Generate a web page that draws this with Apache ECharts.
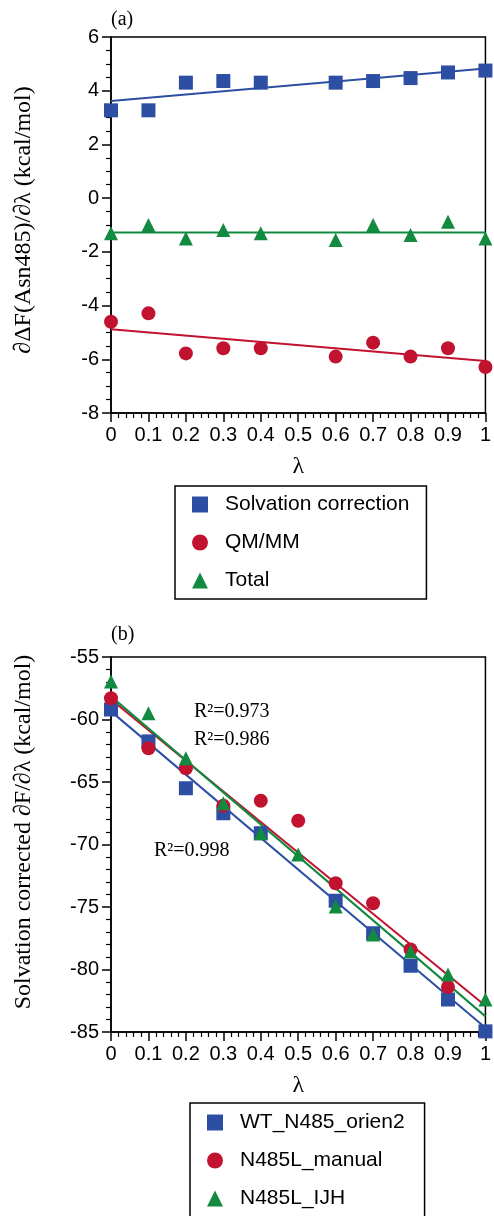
<!DOCTYPE html>
<html>
<head>
<meta charset="utf-8">
<script src="https://cdn.jsdelivr.net/npm/echarts@6/dist/echarts.min.js"></script>
<style>
  html, body { margin: 0; padding: 0; background: #fff; }
  #chart { width: 494px; height: 1216px; }
</style>
</head>
<body>
<div id="chart"></div>
<script>
// panel (a)
const lambdaA = [0, 0.1, 0.2, 0.3, 0.4, 0.6, 0.7, 0.8, 0.9, 1];
const solvation = [3.27, 3.27, 4.3, 4.36, 4.3, 4.3, 4.36, 4.47, 4.68, 4.75];
const qmmm = [-4.6, -4.29, -5.78, -5.59, -5.59, -5.9, -5.38, -5.9, -5.59, -6.29];
const total = [-1.31, -1.0, -1.5, -1.19, -1.31, -1.56, -1.0, -1.37, -0.88, -1.5];
const fitEnds = [0, 1];
const solvationFit = [3.62, 4.83];
const qmmmFit = [-4.88, -6.06];
const totalFit = [-1.28, -1.28];

// panel (b)
const lambdaWT = [0, 0.1, 0.2, 0.3, 0.4, 0.6, 0.7, 0.8, 0.9, 1];
const wtOrien2 = [-59.2, -61.75, -65.5, -67.5, -69.1, -74.5, -77.1, -79.7, -82.4, -84.95];
const lambdaL = [0, 0.1, 0.2, 0.3, 0.4, 0.5, 0.6, 0.7, 0.8, 0.9, 1];
const n485lManual = [-58.3, -62.3, -63.9, -66.9, -66.5, -68.1, -73.1, -74.7, -78.4, -81.4, -85.1];
const n485lIJH = [-56.95, -59.5, -63.1, -66.7, -69.1, -70.8, -74.95, -77.2, -78.55, -80.4, -82.4];
const wtFit = [-59.35, -84.66];
const manualFit = [-58.4, -82.9];
const ijhFit = [-58.15, -83.75];

const BLUE = '#2d4fa3';
const RED = '#c1122f';
const GREEN = '#128a3f';
const SANS = '"Liberation Sans", Arial, sans-serif';
const SERIF = '"Liberation Serif", "Times New Roman", serif';

const pairs = (xs, ys) => xs.map((x, i) => [x, ys[i]]);

const xAxisBase = (gridIndex) => ({
  type: 'value',
  gridIndex,
  min: 0,
  max: 1,
  interval: 0.1,
  name: 'λ',
  nameLocation: 'middle',
  nameGap: 42,
  nameTextStyle: { fontFamily: SERIF, fontSize: 24, color: '#000' },
  axisLine: { onZero: false, lineStyle: { color: '#000', width: 1.5 } },
  axisTick: { inside: false, length: 9, lineStyle: { color: '#000', width: 1.5 } },
  minorTick: { show: true, splitNumber: 5, length: 5, lineStyle: { color: '#000', width: 1.2 } },
  splitLine: { show: false },
  axisLabel: {
    margin: 12,
    fontFamily: SANS,
    fontSize: 20,
    color: '#000',
    formatter: (v) => String(+v.toFixed(1)),
  },
});

const yAxisBase = (gridIndex, min, max, interval, minorSplit) => ({
  type: 'value',
  gridIndex,
  min,
  max,
  interval,
  axisLine: { onZero: false, lineStyle: { color: '#000', width: 1.5 } },
  axisTick: { inside: false, length: 9, lineStyle: { color: '#000', width: 1.5 } },
  minorTick: { show: true, splitNumber: minorSplit, length: 5, lineStyle: { color: '#000', width: 1.2 } },
  splitLine: { show: false },
  axisLabel: { margin: 12, fontFamily: SANS, fontSize: 20, color: '#000' },
});

const scatter = (name, xi, yi, xs, ys, symbol, color, size) => ({
  name,
  type: 'scatter',
  xAxisIndex: xi,
  yAxisIndex: yi,
  data: pairs(xs, ys),
  symbol,
  symbolSize: size,
  itemStyle: { color, opacity: 1 },
  z: 3,
  silent: true,
});

const fit = (name, xi, yi, ys, color) => ({
  name,
  type: 'line',
  xAxisIndex: xi,
  yAxisIndex: yi,
  data: pairs(fitEnds, ys),
  showSymbol: false,
  lineStyle: { color, width: 2 },
  z: 2,
  silent: true,
});

const legendBase = {
  orient: 'vertical',
  itemGap: 17,
  itemWidth: 16,
  itemHeight: 16,
  borderColor: '#000',
  borderWidth: 1.5,
  borderRadius: 0,
  selectedMode: false,
  textStyle: { fontFamily: SANS, fontSize: 21, color: '#000', padding: [0, 0, 0, 12] },
};

const chart = echarts.init(document.getElementById('chart'), null, { renderer: 'canvas' });

chart.setOption({
  animation: false,
  backgroundColor: '#fff',
  grid: [
    { left: 111, right: 7, top: 37, height: 376, show: true, borderColor: '#000', borderWidth: 1.5 },
    { left: 111, right: 7, top: 657, height: 375, show: true, borderColor: '#000', borderWidth: 1.5 },
  ],
  xAxis: [xAxisBase(0), xAxisBase(1)],
  yAxis: [yAxisBase(0, -8, 6, 2, 4), yAxisBase(1, -85, -55, 5, 5)],
  legend: [
    Object.assign({}, legendBase, {
      data: ['Solvation correction', 'QM/MM', 'Total'],
      left: 175,
      top: 486,
      height: 120,
      padding: [8, 17, 8, 17],
    }),
    Object.assign({}, legendBase, {
      data: ['WT_N485_orien2', 'N485L_manual', 'N485L_IJH'],
      left: 190,
      top: 1103,
      height: 130,
      padding: [9, 20, 11, 17],
    }),
  ],
  graphic: [
    { type: 'text', left: 111, top: 10, style: { text: '(a)', font: '20px ' + SERIF, fill: '#000' } },
    { type: 'text', left: 111, top: 625, style: { text: '(b)', font: '20px ' + SERIF, fill: '#000' } },
    {
      type: 'text', x: 24, y: 220, rotation: Math.PI / 2,
      style: { text: '∂ΔF(Asn485)/∂λ (kcal/mol)', font: '24px ' + SERIF, fill: '#000', align: 'center', verticalAlign: 'middle' },
    },
    {
      type: 'text', x: 24, y: 832, rotation: Math.PI / 2,
      style: { text: 'Solvation corrected ∂F/∂λ (kcal/mol)', font: '24px ' + SERIF, fill: '#000', align: 'center', verticalAlign: 'middle' },
    },
    { type: 'text', x: 194, y: 712, style: { text: 'R²=0.973', font: '20px ' + SERIF, fill: '#000', verticalAlign: 'middle' } },
    { type: 'text', x: 194, y: 740, style: { text: 'R²=0.986', font: '20px ' + SERIF, fill: '#000', verticalAlign: 'middle' } },
    { type: 'text', x: 154, y: 851, style: { text: 'R²=0.998', font: '20px ' + SERIF, fill: '#000', verticalAlign: 'middle' } },
  ],
  series: [
    fit('fitSolv', 0, 0, solvationFit, BLUE),
    fit('fitQM', 0, 0, qmmmFit, RED),
    fit('fitTotal', 0, 0, totalFit, GREEN),
    scatter('Solvation correction', 0, 0, lambdaA, solvation, 'rect', BLUE, 14),
    scatter('QM/MM', 0, 0, lambdaA, qmmm, 'circle', RED, 14),
    scatter('Total', 0, 0, lambdaA, total, 'triangle', GREEN, 14),

    fit('fitWT', 1, 1, wtFit, BLUE),
    fit('fitManual', 1, 1, manualFit, RED),
    fit('fitIJH', 1, 1, ijhFit, GREEN),
    scatter('WT_N485_orien2', 1, 1, lambdaWT, wtOrien2, 'rect', BLUE, 14),
    scatter('N485L_manual', 1, 1, lambdaL, n485lManual, 'circle', RED, 14),
    scatter('N485L_IJH', 1, 1, lambdaL, n485lIJH, 'triangle', GREEN, 14),
  ],
});
</script>
</body>
</html>
